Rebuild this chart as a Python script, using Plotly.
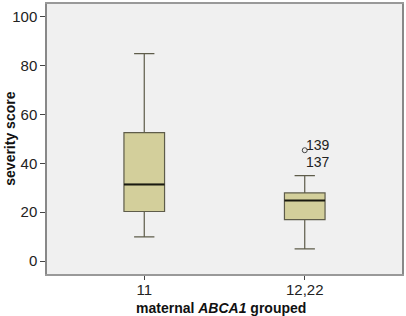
import plotly.graph_objects as go

groups = ["11", "12,22"]
xpos = [0, 1]
lowerfence = [9.9, 5.0]
q1 = [20.3, 17.0]
median = [31.4, 24.8]
q3 = [52.6, 27.9]
upperfence = [85.0, 35.0]
outlier_x = [1]
outlier_y = [45.4]
outlier_ids = ["139", "137"]

FONT = "Liberation Sans, Arial"

fig = go.Figure()
fig.add_trace(go.Box(
    x=xpos, q1=q1, median=median, q3=q3,
    lowerfence=lowerfence, upperfence=upperfence,
    width=0.253, whiskerwidth=0.5,
    fillcolor="#d3cf9b", line=dict(color="#5e5c4a", width=1.2),
    boxpoints=False, showlegend=False, hoverinfo="skip",
))
for xi, m in zip(xpos, median):
    fig.add_shape(type="line", x0=xi - 0.1265, x1=xi + 0.1265, y0=m, y1=m,
                  line=dict(color="#1a1a10", width=2))
fig.add_trace(go.Scatter(
    x=outlier_x, y=outlier_y, mode="markers",
    marker=dict(symbol="circle-open", size=5, color="#444", line=dict(width=1)),
    showlegend=False, hoverinfo="skip",
))
fig.add_annotation(x=outlier_x[0], y=outlier_y[0], text=outlier_ids[0], showarrow=False,
                   xanchor="left", yanchor="middle", xshift=-1, yshift=5,
                   font=dict(size=14, color="#222", family=FONT))
fig.add_annotation(x=outlier_x[0], y=outlier_y[0], text=outlier_ids[1], showarrow=False,
                   xanchor="left", yanchor="middle", xshift=-1, yshift=-12,
                   font=dict(size=14, color="#222", family=FONT))
fig.add_annotation(xref="paper", yref="paper", x=0.49, y=-0.125, yanchor="middle",
                   text="<b>maternal <i>ABCA1</i> grouped</b>", showarrow=False,
                   font=dict(size=14, color="#111", family=FONT))
fig.add_annotation(xref="paper", yref="paper", x=-0.105, y=0.5, xanchor="center",
                   text="<b>severity score</b>", textangle=-90, showarrow=False,
                   font=dict(size=14, color="#111", family=FONT))

fig.update_layout(
    width=406, height=316,
    margin=dict(l=47, r=3, t=2, b=42),
    paper_bgcolor="white", plot_bgcolor="#f0f0f0",
    font=dict(family=FONT, size=15, color="#222"),
    xaxis=dict(range=[-0.606, 1.606], tickvals=xpos, ticktext=groups,
               showgrid=False, zeroline=False, showline=True, linecolor="#999",
               linewidth=2, mirror=True, ticks="outside", ticklen=4, tickcolor="#444",
               ticklabelstandoff=-3),
    yaxis=dict(range=[-5.3, 105.3], tickvals=[0, 20, 40, 60, 80, 100],
               showgrid=False, zeroline=False, showline=True, linecolor="#888",
               linewidth=1.5, mirror=True, ticks="outside", ticklen=5, tickcolor="#444"),
)
fig.write_html("out.html", config={"displayModeBar": False},
               post_script="document.body.style.margin='0';document.body.style.overflow='hidden';")
